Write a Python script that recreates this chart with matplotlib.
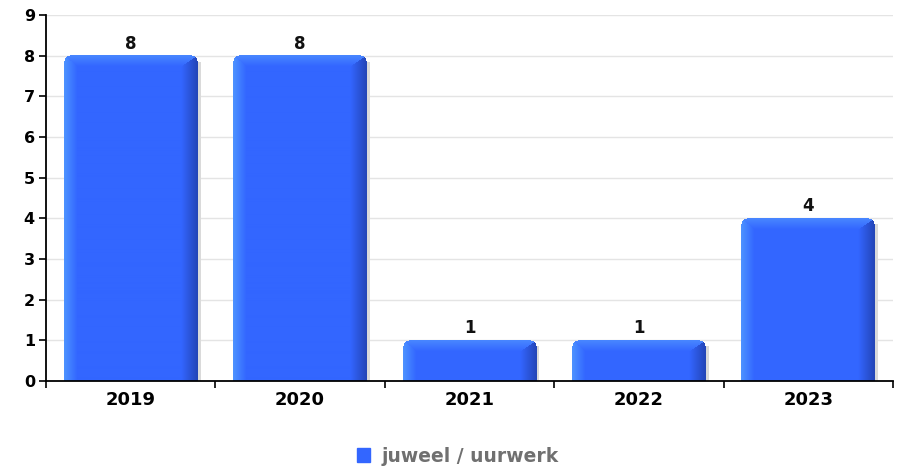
import numpy as np
import matplotlib.pyplot as plt
from matplotlib.patches import Patch, Rectangle

years = ["2019", "2020", "2021", "2022", "2023"]
counts = [8, 8, 1, 1, 4]
series_name = "juweel / uurwerk"

base = np.array([0x33, 0x66, 0xFF]) / 255
light = np.array([0x4D, 0x92, 0xFF]) / 255
top_col = np.array([0x48, 0x86, 0xFF]) / 255
dark = np.array([0x24, 0x46, 0xB8]) / 255


def bar_image(w, h):
    # bevelled bar: light left edge, dark right edge, light top, rounded top corners
    Y, X = np.mgrid[0:h, 0:w].astype(float)
    dl = X
    dr = w - 1 - X
    dt = Y
    bands = {"l": 13.0, "r": 16.0, "t": 11.0}
    img = np.ones((h, w, 4))
    img[..., :3] = base
    nearest = np.argmin(np.stack([dl / bands["l"], dr / bands["r"], dt / bands["t"]]), axis=0)
    for k, (d, band, col) in enumerate([(dl, bands["l"], light),
                                         (dr, bands["r"], dark),
                                         (dt, bands["t"], top_col)]):
        f = np.clip(1 - d / band, 0, 1) * (nearest == k)
        img[..., :3] = img[..., :3] * (1 - f[..., None]) + col * f[..., None]
    r = 6
    for cx in (r, w - 1 - r):
        side = (X < r) if cx == r else (X > w - 1 - r)
        out = side & (Y < r) & ((X - cx) ** 2 + (Y - r) ** 2 > r ** 2)
        img[out, 3] = 0
    return img


fig = plt.figure(figsize=(9.03, 4.69), dpi=100)
ax = fig.add_axes([46 / 903, 88 / 469, 847 / 903, 366 / 469])

x = np.arange(len(years))
width = 0.79
ax.set_xlim(-0.5, len(years) - 0.5)
ax.set_ylim(0, 9)

px_x = 847 / len(years)
px_y = 366 / 9

for xi, val in zip(x, counts):
    x0, x1 = xi - width / 2, xi + width / 2
    # soft shadow on the right
    ax.add_patch(Rectangle((x1, 0), 3 / px_x, val - 0.15, color="#dadada", zorder=2, lw=0))
    w = int(round(width * px_x))
    h = int(round(val * px_y))
    ax.imshow(bar_image(w, h), extent=(x0, x1, 0, val), aspect="auto",
              zorder=3, interpolation="bilinear")
    ax.text(xi, val + 0.07, str(val), ha="center", va="bottom",
            fontsize=12, fontweight="bold", color="#111111", zorder=4)

ax.set_xlim(-0.5, len(years) - 0.5)
ax.set_ylim(0, 9)

ax.set_yticks(range(10))
ax.set_yticklabels([str(i) for i in range(10)], fontsize=11.5, fontweight="bold")
ax.set_xticks(np.arange(len(years) + 1) - 0.5)
ax.set_xticklabels([])
ax.set_xticks(x, minor=True)
ax.set_xticklabels(years, minor=True, fontsize=13, fontweight="bold")
ax.tick_params(axis="x", which="minor", length=0, pad=7)
ax.tick_params(axis="x", which="major", length=5, width=1.2, direction="out")
ax.tick_params(axis="y", length=5, width=1.2, direction="out", pad=3)

ax.grid(axis="y", color="#e4e4e4", lw=1)
ax.set_axisbelow(True)
for s in ["top", "right"]:
    ax.spines[s].set_visible(False)
ax.spines["left"].set_linewidth(1.3)
ax.spines["bottom"].set_linewidth(1.3)
ax.spines["bottom"].set_zorder(5)

leg = fig.legend(handles=[Patch(color="#3366ff", label=series_name)],
                 loc="center", bbox_to_anchor=(458 / 903, 1 - 456 / 469),
                 frameon=False, handlelength=0.7, handleheight=0.7,
                 handletextpad=0.6, prop={"weight": "bold", "size": 13.5})
for t in leg.get_texts():
    t.set_color("#707070")

fig.savefig("out.png", dpi=100)
